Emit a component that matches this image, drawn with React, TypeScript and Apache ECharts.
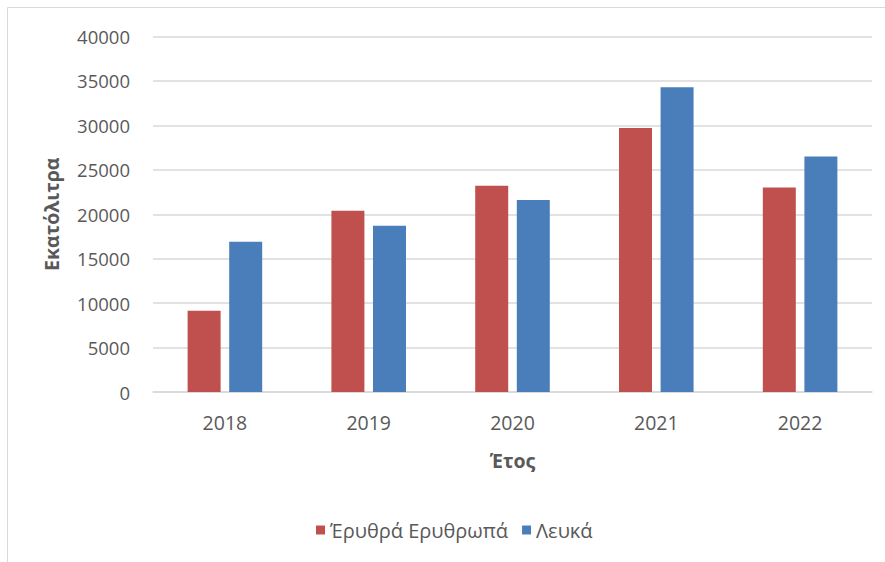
import React, { useEffect, useRef } from "react";
import * as echarts from "echarts";

const years = ["2018", "2019", "2020", "2021", "2022"];
const redWines = [9150, 20400, 23200, 29700, 23000];
const whiteWines = [16900, 18700, 21600, 34300, 26500];
const seriesNames = ["Έρυθρά Ερυθρωπά", "Λευκά"];
const yTitle = "Εκατόλιτρα";
const xTitle = "Έτος";

const FONT = "'Open Sans', 'Noto Sans', sans-serif";
const TXT = "#595959";

export default function App() {
  const ref = useRef<HTMLDivElement>(null);
  useEffect(() => {
    if (!ref.current) return;
    const chart = echarts.init(ref.current, undefined, { renderer: "svg" });
    chart.setOption({
      animation: false,
      backgroundColor: "#ffffff",
      textStyle: { fontFamily: FONT },
      graphic: [
        {
          type: "rect",
          shape: { x: 7.5, y: 7.5, width: 920, height: 620 },
          style: { fill: "none", stroke: "#D9D9D9", lineWidth: 1 },
          silent: true,
        },
      ],
      grid: { left: 153, right: 13, top: 36.5, bottom: 170 },
      legend: {
        data: seriesNames,
        left: 311,
        top: 515,
        itemWidth: 9,
        itemHeight: 9,
        itemGap: 14,
        icon: "rect",
        textStyle: { color: TXT, fontSize: 20, fontFamily: FONT },
      },
      xAxis: {
        type: "category",
        data: years,
        name: xTitle,
        nameLocation: "middle",
        nameGap: 58,
        nameTextStyle: { color: TXT, fontSize: 19.5, fontWeight: "bold", fontFamily: FONT },
        axisLine: { show: true, lineStyle: { color: "#D9D9D9", width: 1.5 } },
        axisTick: { show: false },
        axisLabel: { color: TXT, fontSize: 19.5, margin: 20, fontFamily: FONT },
      },
      yAxis: {
        type: "value",
        min: 0,
        max: 40000,
        interval: 5000,
        name: yTitle,
        nameLocation: "middle",
        nameGap: 92,
        nameTextStyle: { color: TXT, fontSize: 19.5, fontWeight: "bold", fontFamily: FONT },
        axisLine: { show: false },
        axisTick: { show: false },
        axisLabel: {
          color: TXT,
          fontSize: 18.5,
          margin: 23,
          fontFamily: FONT,
          formatter: (v: number) => String(v),
        },
        splitLine: { lineStyle: { color: "#D9D9D9", width: 1.5 } },
      },
      series: [
        {
          name: seriesNames[0],
          type: "bar",
          data: redWines,
          barWidth: 33,
          barGap: "26%",
          itemStyle: { color: "#C0504D" },
        },
        {
          name: seriesNames[1],
          type: "bar",
          data: whiteWines,
          barWidth: 33,
          barGap: "26%",
          itemStyle: { color: "#4A7EBB" },
        },
      ],
    });
    return () => chart.dispose();
  }, []);
  return (
    <div
      ref={ref}
      style={{ position: "absolute", left: 0, top: 0, width: 885, height: 562 }}
    />
  );
}
